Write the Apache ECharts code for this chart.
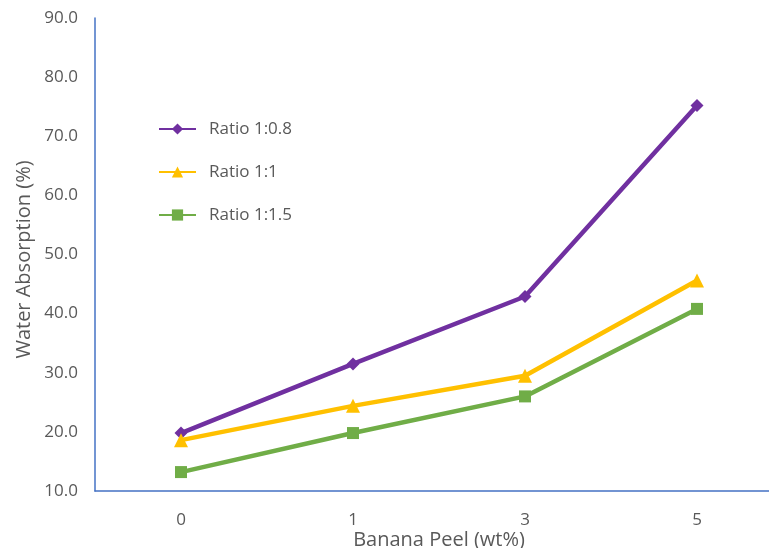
<!DOCTYPE html>
<html><head><meta charset="utf-8">
<script src="https://cdn.jsdelivr.net/npm/echarts@6/dist/echarts.min.js"></script>
<style>html,body{margin:0;padding:0;background:#fff}#c{width:769px;height:548px}</style>
</head><body><div id="c"></div>
<script>
const categories = ['0', '1', '3', '5'];
const seriesNames = ['Ratio 1:0.8', 'Ratio 1:1', 'Ratio 1:1.5'];
const ratio08 = [19.8, 31.5, 42.9, 75.2];
const ratio1 = [18.6, 24.4, 29.5, 45.6];
const ratio15 = [13.2, 19.8, 26.0, 40.8];
const yTicks = [10, 20, 30, 40, 50, 60, 70, 80, 90];

const font = '"Open Sans", Lato, sans-serif';
const gray = '#595959';
const chart = echarts.init(document.getElementById('c'));
const mk = (name, data, color, symbol, size) => ({
  name, type: 'line', data, symbol, symbolSize: size,
  lineStyle: { color, width: 4.5 }, itemStyle: { color },
  emphasis: { disabled: true }
});
chart.setOption({
  animation: false,
  grid: { left: 95, top: 18, width: 688, height: 473, containLabel: false, outerBoundsMode: 'none' },
  legend: {
    orient: 'vertical', left: 158, top: 119, padding: 0, itemGap: 23, itemWidth: 37, itemHeight: 14,
    textStyle: { color: gray, fontSize: 17, fontFamily: font, lineHeight: 20, padding: [0, 0, 0, 8] },
    data: seriesNames
  },
  xAxis: {
    type: 'category', data: categories, boundaryGap: true,
    axisLine: { lineStyle: { color: '#4472C4', width: 1.5 } },
    axisTick: { show: false },
    axisLabel: { color: gray, fontSize: 17, fontFamily: font, margin: 21 },
    name: 'Banana Peel (wt%)', nameLocation: 'middle', nameGap: 39, nameMoveOverlap: false,
    nameTextStyle: { color: gray, fontSize: 20, fontFamily: font }
  },
  yAxis: {
    type: 'value', min: yTicks[0], max: yTicks[yTicks.length - 1], interval: 10,
    axisLine: { show: true, lineStyle: { color: '#4472C4', width: 1.5 } },
    axisTick: { show: false },
    splitLine: { show: false },
    axisLabel: { color: gray, fontSize: 17, fontFamily: font, margin: 17, formatter: v => v.toFixed(1) },
    name: 'Water Absorption (%)', nameLocation: 'middle', nameGap: 61, nameRotate: 90, nameMoveOverlap: false,
    nameTextStyle: { color: gray, fontSize: 20, fontFamily: font, padding: [0, 10, 0, 0] }
  },
  series: [
    mk(seriesNames[0], ratio08, '#7030A0', 'diamond', 13),
    mk(seriesNames[1], ratio1, '#FFC000', 'triangle', 14),
    mk(seriesNames[2], ratio15, '#70AD47', 'rect', 12)
  ]
});
</script></body></html>
